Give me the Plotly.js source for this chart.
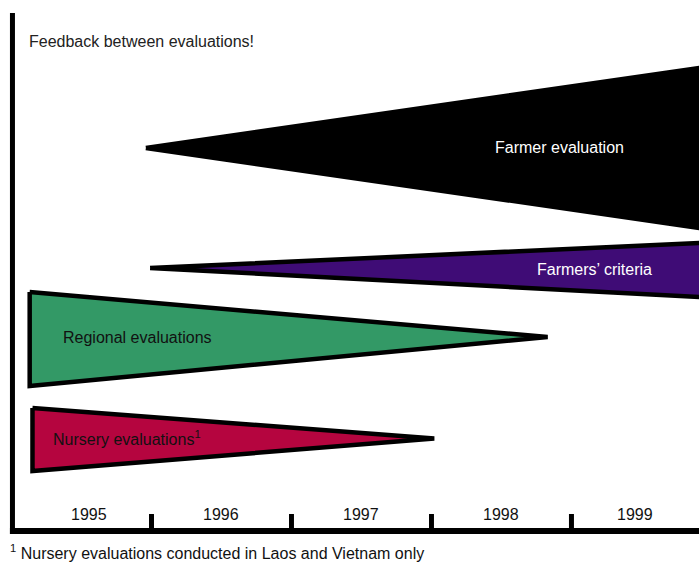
<!DOCTYPE html>
<html>
<head>
<meta charset="utf-8">
<script src="https://cdn.plot.ly/plotly-3.0.1.min.js"></script>
<style>html,body{margin:0;padding:0;background:#fff;}#chart{width:699px;height:562px;}</style>
</head>
<body>
<div id="chart"></div>
<script>
// Phase wedges (x in years, y in lane units; 0 = timeline)
const phases = ['Farmer evaluation', "Farmers\u2019 criteria", 'Regional evaluations', 'Nursery evaluations<sup>1</sup>'];
const startYear = [1995.46, 1995.49, 1994.63, 1994.65];
const endYear = [1999.6, 1999.6, 1998.33, 1997.52];
const startTop = [72.13, 49.53, 45.01, 23.16];
const startBottom = [72.13, 49.53, 27.31, 11.30];
const endTop = [87.91, 54.46, 36.53, 17.42];
const endBottom = [56.35, 43.80, 36.53, 17.42];
const fillColors = ['#000000', '#3F0C76', '#339966', '#B5053F'];
const labelColors = ['#ffffff', '#ffffff', '#111111', '#111111'];
const labelX = [1998.418, 1998.668, 1994.852, 1994.781];
const labelY = [72.13, 49.34, 36.35, 17.51];
const labelAnchor = ['center', 'center', 'left', 'left'];

const years = [1995, 1996, 1997, 1998, 1999];
const yearBoundaries = [1995.5, 1996.5, 1997.5, 1998.5];

const headerText = 'Feedback between evaluations!';
const footnoteText = '<sup>1</sup> Nursery evaluations conducted in Laos and Vietnam only';

const FONT = 'Liberation Sans, Arial, sans-serif';
const FS = 16;

const traces = phases.map((name, i) => {
  const xs = [], ys = [];
  xs.push(startYear[i]); ys.push(startTop[i]);
  xs.push(endYear[i]); ys.push(endTop[i]);
  if (endBottom[i] !== endTop[i]) { xs.push(endYear[i]); ys.push(endBottom[i]); }
  if (startBottom[i] !== startTop[i]) { xs.push(startYear[i]); ys.push(startBottom[i]); }
  xs.push(startYear[i]); ys.push(startTop[i]);
  return {
    type: 'scatter', mode: 'lines', x: xs, y: ys, fill: 'toself',
    fillcolor: fillColors[i], line: {color: '#000', width: 4.5},
    hoverinfo: 'skip', showlegend: false, name: name
  };
});

const xMin = 1994.418, xMax = 1999.411;
const axisX = 1994.507;

const shapes = [
  {type: 'line', xref: 'x', yref: 'y', x0: axisX, x1: axisX, y0: 97.55, y1: -0.57, line: {color: '#000', width: 5}},
  {type: 'line', xref: 'x', yref: 'y', x0: 1994.489, x1: 1999.6, y0: 0, y1: 0, line: {color: '#000', width: 6}}
];
yearBoundaries.forEach(b => shapes.push({type: 'line', xref: 'x', yref: 'y', x0: b, x1: b, y0: 0, y1: 3.2, line: {color: '#000', width: 5}}));

const annotations = [];
phases.forEach((name, i) => annotations.push({
  x: labelX[i], y: labelY[i], xref: 'x', yref: 'y', text: name, showarrow: false,
  xanchor: labelAnchor[i], yanchor: 'middle',
  font: {family: FONT, size: FS, color: labelColors[i]}
}));
const yearShift = [8, 0, 0, 0, -6];
years.forEach((yr, i) => annotations.push({
  x: yr, y: 3.2, xref: 'x', yref: 'y', text: String(yr), showarrow: false,
  xanchor: 'center', yanchor: 'middle', xshift: yearShift[i],
  font: {family: FONT, size: FS, color: '#111'}
}));
annotations.push({
  x: 27/699, y: (562-41)/562, xref: 'paper', yref: 'paper', text: headerText, showarrow: false,
  xanchor: 'left', yanchor: 'middle', font: {family: FONT, size: FS, color: '#222'}
});
annotations.push({
  x: 8/699, y: (562-552)/562, xref: 'paper', yref: 'paper', text: footnoteText, showarrow: false,
  xanchor: 'left', yanchor: 'middle', font: {family: FONT, size: FS, color: '#111'}
});

const layout = {
  width: 699, height: 562,
  margin: {l: 0, r: 0, t: 0, b: 0},
  paper_bgcolor: '#fff', plot_bgcolor: '#fff',
  xaxis: {range: [xMin, xMax], visible: false, fixedrange: true},
  yaxis: {range: [-5.838, 100], visible: false, fixedrange: true},
  shapes: shapes, annotations: annotations, showlegend: false
};

Plotly.newPlot('chart', traces, layout, {staticPlot: true, displayModeBar: false});
</script>
</body>
</html>
